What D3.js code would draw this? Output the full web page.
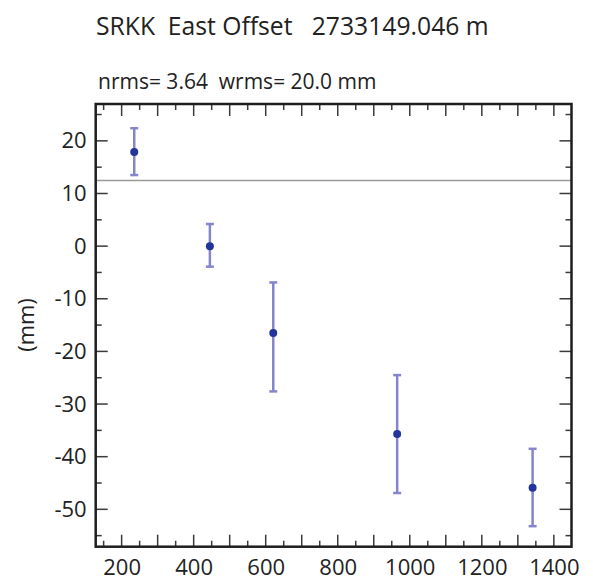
<!DOCTYPE html>
<html>
<head>
<meta charset="utf-8">
<script src="https://cdn.jsdelivr.net/npm/d3@7"></script>
<style>
  html, body { margin: 0; padding: 0; background: #fff; }
  svg { display: block; }
  text { font-family: "Open Sans", "Noto Sans", sans-serif; fill: #222; }
</style>
</head>
<body>
<div id="chart"></div>
<script>
// ---- data ----
const titleText = "SRKK  East Offset   2733149.046 m";
const subtitleText = "nrms= 3.64  wrms= 20.0 mm";
const yAxisLabel = "(mm)";
const xValues = [235, 445, 621, 965, 1341];
const yValues = [17.9, 0.0, -16.5, -35.7, -45.9];
const yLow = [13.5, -3.9, -27.6, -46.9, -53.2];
const yHigh = [22.4, 4.2, -6.9, -24.5, -38.5];
const refLine = [12.45];
const xDomain = [128, 1449];
const yDomain = [-57.1, 27.0];
const xLabelTicks = [200, 400, 600, 800, 1000, 1200, 1400];
const yLabelTicks = [-50, -40, -30, -20, -10, 0, 10, 20];

const W = 593, H = 584;
const L = 95.7, R = 571.5, T = 104, B = 546.7;

const svg = d3.select("#chart").append("svg").attr("width", W).attr("height", H);

const x = d3.scaleLinear().domain(xDomain).range([L, R]);
const y = d3.scaleLinear().domain(yDomain).range([B, T]);

// titles
svg.append("text").attr("x", 96).attr("y", 35)
  .style("font-size", "24.7px").style("white-space", "pre").text(titleText);
svg.append("text").attr("x", 98).attr("y", 89)
  .style("font-size", "21px").style("white-space", "pre").text(subtitleText);

// reference line
svg.selectAll("line.ref").data(refLine).enter().append("line")
  .attr("x1", L).attr("x2", R).attr("y1", d => y(d)).attr("y2", d => y(d))
  .attr("stroke", "#9a9a9a").attr("stroke-width", 1.5);

// ticks: inside, on all four sides
const xMajor = d3.range(200, 1401, 100);
const xMinor = d3.range(150, 1401, 100);
const yMajor = d3.range(-50, 21, 10);
const yMinor = d3.range(-55, 26, 10);
const tickCol = "#3a3a3a";
const axG = svg.append("g").attr("stroke", tickCol).attr("stroke-width", 1.5);
function xt(vals, len) {
  vals.forEach(v => {
    axG.append("line").attr("x1", x(v)).attr("x2", x(v)).attr("y1", B).attr("y2", B - len);
    axG.append("line").attr("x1", x(v)).attr("x2", x(v)).attr("y1", T).attr("y2", T + len);
  });
}
function yt(vals, len) {
  vals.forEach(v => {
    axG.append("line").attr("y1", y(v)).attr("y2", y(v)).attr("x1", L).attr("x2", L + len);
    axG.append("line").attr("y1", y(v)).attr("y2", y(v)).attr("x1", R).attr("x2", R - len);
  });
}
xt(xMajor, 12); xt(xMinor, 6);
yt(yMajor, 12); yt(yMinor, 6);

// tick labels via d3 axes (no tick lines)
const fmt = d => String(d);
const xAxis = d3.axisBottom(x).tickValues(xLabelTicks).tickSize(0).tickPadding(0).tickFormat(fmt);
const gx = svg.append("g").attr("transform", `translate(0,${B + 28})`).call(xAxis);
gx.select(".domain").remove();
gx.selectAll("text").style("font-size", "22px").attr("fill", "#222").attr("dy", 0)
  .style("font-family", '"Open Sans", sans-serif');

const yAxis = d3.axisLeft(y).tickValues(yLabelTicks).tickSize(0).tickPadding(0).tickFormat(fmt);
const gy = svg.append("g").attr("transform", `translate(${L - 9},0)`).call(yAxis);
gy.select(".domain").remove();
gy.selectAll("text").style("font-size", "22px").attr("fill", "#222")
  .style("font-family", '"Open Sans", sans-serif');

// y label
svg.append("text").attr("transform", `translate(34,325) rotate(-90)`)
  .attr("text-anchor", "middle").style("font-size", "22px").text(yAxisLabel);

// error bars
const pts = xValues.map((v, i) => ({x: v, y: yValues[i], lo: yLow[i], hi: yHigh[i]}));
const eb = svg.append("g").attr("stroke", "#8585cc").attr("stroke-width", 2.5);
pts.forEach(p => {
  eb.append("line").attr("x1", x(p.x)).attr("x2", x(p.x)).attr("y1", y(p.lo)).attr("y2", y(p.hi));
  eb.append("line").attr("x1", x(p.x) - 4).attr("x2", x(p.x) + 4).attr("y1", y(p.lo)).attr("y2", y(p.lo));
  eb.append("line").attr("x1", x(p.x) - 4).attr("x2", x(p.x) + 4).attr("y1", y(p.hi)).attr("y2", y(p.hi));
});
svg.selectAll("circle.pt").data(pts).enter().append("circle")
  .attr("cx", d => x(d.x)).attr("cy", d => y(d.y)).attr("r", 4)
  .attr("fill", "#24359a");

// frame
svg.append("rect").attr("x", L).attr("y", T).attr("width", R - L).attr("height", B - T)
  .attr("fill", "none").attr("stroke", "#1e1e1e").attr("stroke-width", 2.5);
</script>
</body>
</html>
